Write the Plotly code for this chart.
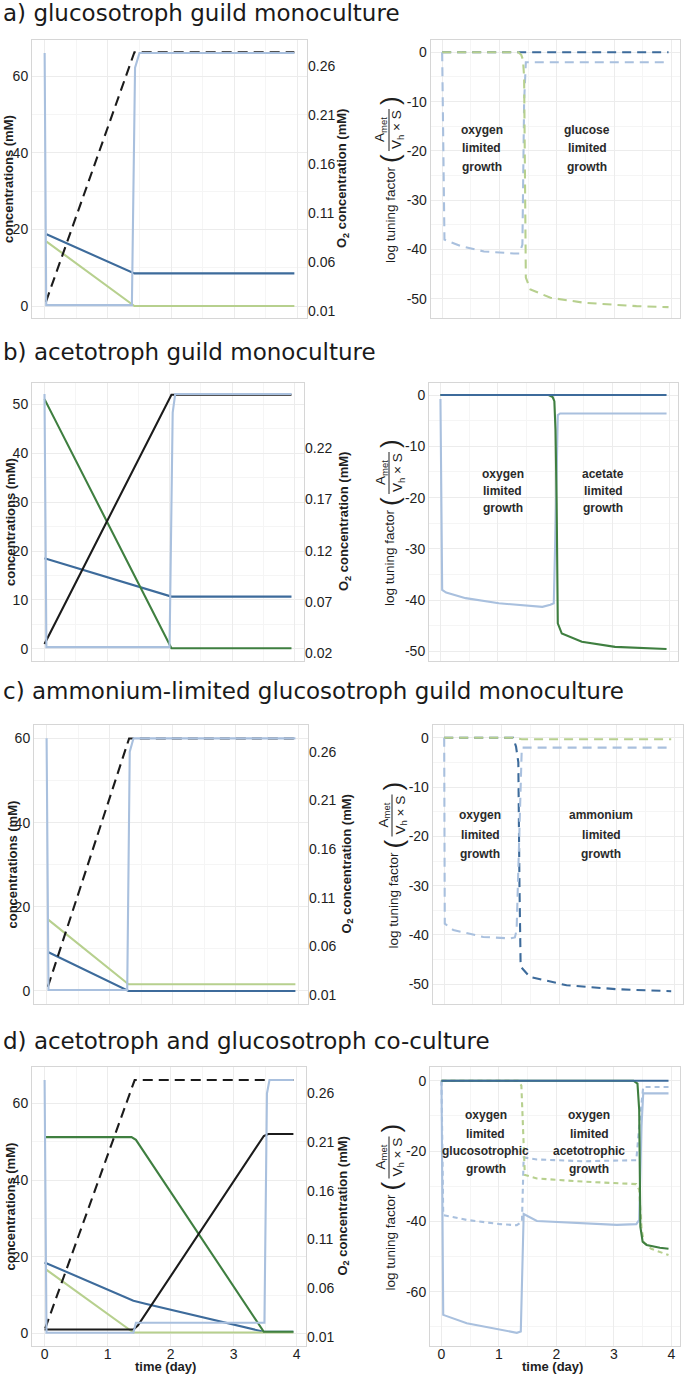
import plotly.graph_objects as go

W, H = 685, 1374

# ---------------- colours ----------------
C_LBLUE = "#a9c0de"
C_BLUE = "#3d6b9b"
C_LGREEN = "#b7d08e"
C_DGREEN = "#3f7f40"
C_BLACK = "#1b1b1b"

# ---------------- panel titles ----------------
panel_titles = ["a) glucosotroph guild monoculture",
                "b) acetotroph guild monoculture",
                "c) ammonium-limited glucosotroph guild monoculture",
                "d) acetotroph and glucosotroph co-culture"]

# ---------------- tick labels ----------------
a_conc_ticks = [0, 20, 40, 60]
b_conc_ticks = [0, 10, 20, 30, 40, 50]
c_conc_ticks = [0, 20, 40, 60]
d_conc_ticks = [0, 20, 40, 60]
a_o2_ticks = [0.01, 0.06, 0.11, 0.16, 0.21, 0.26]
b_o2_ticks = [0.02, 0.07, 0.12, 0.17, 0.22]
c_o2_ticks = [0.01, 0.06, 0.11, 0.16, 0.21, 0.26]
d_o2_ticks = [0.01, 0.06, 0.11, 0.16, 0.21, 0.26]
a_log_ticks = [0, -10, -20, -30, -40, -50]
b_log_ticks = [0, -10, -20, -30, -40, -50]
c_log_ticks = [0, -10, -20, -30, -40, -50]
d_log_ticks = [0, -20, -40, -60]
time_ticks = [0, 1, 2, 3, 4]

# ================= DATA =================
# ---- a) left: concentrations (mM) ----
a_t_blue = [0.03, 1.42, 3.95]
a_blue = [18.7, 8.5, 8.5]
a_t_lgreen = [0.03, 1.42, 3.95]
a_lgreen = [16.8, 0.0, 0.0]
a_t_kdash = [0.02, 1.42, 3.95]
a_kdash = [1.1, 66.2, 66.2]
a_t_o2 = [0.0, 0.025, 1.38, 1.43, 1.5, 3.95]
a_o2 = [0.273, 0.016, 0.016, 0.258, 0.273, 0.273]
# ---- a) right: log tuning factor ----
a_r_t_blue = [0.0, 3.95]
a_r_blue = [0.0, 0.0]
a_r_t_lblue = [0.0, 0.02, 0.04, 0.32, 0.73, 1.25, 1.35, 1.40, 1.43, 1.46, 3.95]
a_r_lblue = [0.0, -20.0, -38.0, -39.3, -40.4, -40.8, -40.8, -39.0, -10.0, -2.0, -2.0]
a_r_t_lgreen = [0.0, 1.33, 1.38, 1.41, 1.43, 1.46, 1.54, 1.89, 2.47, 3.39, 3.95]
a_r_lgreen = [0.0, 0.0, -0.5, -1.5, -5.0, -45.7, -48.1, -49.8, -50.8, -51.5, -51.7]

# ---- b) left ----
b_t_blue = [0.0, 2.03, 3.95]
b_blue = [18.5, 10.66, 10.66]
b_t_dgreen = [0.0, 2.03, 3.95]
b_dgreen = [51.1, 0.1, 0.1]
b_t_black = [0.0, 2.03, 3.95]
b_black = [0.96, 52.0, 52.0]
b_t_o2 = [0.0, 0.03, 2.0, 2.05, 2.09, 3.95]
b_o2 = [0.273, 0.026, 0.026, 0.255, 0.273, 0.273]
# ---- b) right ----
b_r_t_blue = [0.0, 3.95]
b_r_blue = [0.0, 0.0]
b_r_t_lblue = [0.0, 0.03, 0.1, 0.44, 1.02, 1.43, 1.78, 1.92, 1.98, 2.02, 2.05, 2.09, 3.95]
b_r_lblue = [-0.8, -38.0, -38.5, -39.6, -40.6, -41.0, -41.3, -40.9, -40.6, -21.0, -3.9, -3.6, -3.6]
b_r_t_dgreen = [0.0, 1.89, 1.96, 1.99, 2.01, 2.03, 2.05, 2.12, 2.47, 3.05, 3.95]
b_r_dgreen = [0.0, 0.0, -0.4, -1.2, -6.8, -21.0, -44.5, -46.5, -48.1, -49.1, -49.5]

# ---- c) left ----
c_t_blue = [0.03, 1.30, 3.95]
c_blue = [9.2, 0.0, 0.0]
c_t_lgreen = [0.03, 1.30, 3.95]
c_lgreen = [16.9, 1.6, 1.6]
c_t_kdash = [0.02, 1.31, 3.95]
c_kdash = [1.0, 60.0, 60.0]
c_t_o2 = [0.0, 0.03, 1.28, 1.32, 1.38, 3.95]
c_o2 = [0.2738, 0.0151, 0.0151, 0.26, 0.2738, 0.2738]
# ---- c) right ----
c_r_t_blue = [0.0, 1.2, 1.25, 1.29, 1.31, 1.33, 1.49, 2.13, 3.0, 3.95]
c_r_blue = [0.0, 0.0, -1.8, -5.0, -30.0, -46.4, -48.5, -50.2, -51.0, -51.4]
c_r_t_lblue = [0.0, 0.01, 0.16, 0.68, 1.14, 1.23, 1.26, 1.30, 1.35, 3.95]
c_r_lblue = [0.0, -37.7, -39.0, -40.4, -40.7, -40.5, -39.0, -20.0, -2.0, -2.0]
c_r_t_lgreen = [0.0, 1.2, 1.35, 3.95]
c_r_lgreen = [0.0, 0.0, -0.3, -0.3]

# ---- d) left ----
d_t_blue = [0.0, 1.41, 1.6, 3.48, 3.95]
d_blue = [18.5, 8.5, 7.7, 0.4, 0.4]
d_t_lgreen = [0.02, 1.41, 3.95]
d_lgreen = [16.7, 0.2, 0.2]
d_t_dgreen = [0.0, 1.38, 1.45, 3.48, 3.95]
d_dgreen = [51.2, 51.2, 50.5, 0.4, 0.4]
d_t_black = [0.0, 1.41, 1.48, 3.48, 3.55, 3.95]
d_black = [1.0, 1.0, 2.0, 51.5, 52.0, 52.0]
d_t_kdash = [0.01, 1.43, 3.95]
d_kdash = [1.3, 66.1, 66.1]
d_t_o2 = [0.0, 0.03, 1.41, 1.45, 3.49, 3.53, 3.57, 3.95]
d_o2 = [0.2738, 0.0141, 0.0141, 0.0244, 0.0244, 0.26, 0.2738, 0.2738]
# ---- d) right ----
d_r_t_blue = [0.0, 3.95]
d_r_blue = [0.0, 0.0]
d_r_t_dgreen = [0.0, 3.34, 3.41, 3.44, 3.46, 3.50, 3.57, 3.80, 3.95]
d_r_dgreen = [0.0, 0.0, -0.8, -8.3, -41.5, -45.8, -46.7, -47.5, -47.8]
d_r_t_lblue = [0.0, 0.03, 0.44, 1.02, 1.31, 1.38, 1.41, 1.43, 1.66, 2.47, 3.05, 3.39, 3.44, 3.48, 3.51, 3.95]
d_r_lblue = [0.0, -66.6, -69.0, -70.7, -71.7, -71.3, -55.0, -37.9, -39.9, -40.6, -41.0, -40.8, -39.6, -13.0, -3.6, -3.6]
d_r_t_lblue_dash = [0.0, 0.02, 0.03, 0.44, 1.02, 1.31, 1.40, 1.43, 1.66, 2.47, 3.39, 3.44, 3.51, 3.95]
d_r_lblue_dash = [0.0, -20.0, -38.2, -39.6, -40.8, -41.1, -40.1, -21.8, -22.4, -22.9, -22.6, -13.0, -1.8, -1.8]
d_r_t_lgreen_dash = [0.0, 1.33, 1.39, 1.42, 1.45, 1.66, 2.47, 3.39, 3.44, 3.48, 3.52, 3.65, 3.95]
d_r_lgreen_dash = [0.0, 0.0, -1.4, -15.0, -26.8, -27.8, -28.7, -29.4, -31.0, -42.0, -46.0, -47.8, -49.6]

# ---- region labels ----
a_labels = [["oxygen", "limited", "growth"], ["glucose", "limited", "growth"]]
b_labels = [["oxygen", "limited", "growth"], ["acetate", "limited", "growth"]]
c_labels = [["oxygen", "limited", "growth"], ["ammonium", "limited", "growth"]]
d_labels = [["oxygen", "limited", "glucosotrophic", "growth"],
            ["oxygen", "limited", "acetotrophic", "growth"]]

# ================= GEOMETRY (pixels) =================
GEOM = [
    dict(title_y=13, L=(32, 307), R=(430.7, 680), Y=(40, 318),
         lr=(-3.13, 69.4), o2r=(0.00286, 0.2862), rr=(-53.9, 2.5),
         ytitle_x=9, o2title_x=343, rtitle_x=390,
         lab_x=(481.7, 587.3), lab_y=[130, 148.5, 167]),
    dict(title_y=352, L=(32, 304), R=(429, 678), Y=(383, 661),
         lr=(-2.52, 54.4), o2r=(0.01245, 0.2838), rr=(-51.85, 2.34),
         ytitle_x=10, o2title_x=344, rtitle_x=390,
         lab_x=(502.7, 603.3), lab_y=[474, 491, 508]),
    dict(title_y=691, L=(34, 308), R=(432.7, 682.7), Y=(725, 1004),
         lr=(-3.09, 63.2), o2r=(0.00075, 0.2875), rr=(-54.0, 2.58),
         ytitle_x=12, o2title_x=347, rtitle_x=393,
         lab_x=(480, 601), lab_y=[815, 835, 854]),
    dict(title_y=1041, L=(32, 306), R=(430, 680), Y=(1067, 1346),
         lr=(-3.31, 69.5), o2r=(0.00044, 0.2872), rr=(-75.45, 3.9),
         ytitle_x=10, o2title_x=343, rtitle_x=390,
         lab_x=(485.9, 589), lab_y=[1115.3, 1133.8, 1151.3, 1169]),
]
XR = [-0.2, 4.15]

def px(x):
    return x / W

def py(y):
    return 1 - y / H

fig = go.Figure()

def line(t, v, xa, ya, color, dash=None, width=2.1):
    fig.add_trace(go.Scatter(x=t, y=v, xaxis=xa, yaxis=ya, mode="lines",
                             line=dict(color=color, width=width, dash=dash),
                             hoverinfo="skip", showlegend=False))

DASH = "10px,6px"
DASH_R = "9px,6px"

# ---- panel a ----
line(a_t_blue, a_blue, "x", "y", C_BLUE)
line(a_t_lgreen, a_lgreen, "x", "y", C_LGREEN)
line(a_t_kdash, a_kdash, "x", "y", C_BLACK, DASH)
line(a_t_o2, a_o2, "x", "y2", C_LBLUE)
line(a_r_t_blue, a_r_blue, "x2", "y3", C_BLUE, DASH_R)
line(a_r_t_lblue, a_r_lblue, "x2", "y3", C_LBLUE, DASH_R)
line(a_r_t_lgreen, a_r_lgreen, "x2", "y3", C_LGREEN, DASH_R)
# ---- panel b ----
line(b_t_blue, b_blue, "x3", "y4", C_BLUE)
line(b_t_dgreen, b_dgreen, "x3", "y4", C_DGREEN)
line(b_t_black, b_black, "x3", "y4", C_BLACK)
line(b_t_o2, b_o2, "x3", "y5", C_LBLUE)
line(b_r_t_lblue, b_r_lblue, "x4", "y6", C_LBLUE)
line(b_r_t_dgreen, b_r_dgreen, "x4", "y6", C_DGREEN)
line(b_r_t_blue, b_r_blue, "x4", "y6", C_BLUE)
# ---- panel c ----
line(c_t_blue, c_blue, "x5", "y7", C_BLUE)
line(c_t_lgreen, c_lgreen, "x5", "y7", C_LGREEN)
line(c_t_kdash, c_kdash, "x5", "y7", C_BLACK, DASH)
line(c_t_o2, c_o2, "x5", "y8", C_LBLUE)
line(c_r_t_blue, c_r_blue, "x6", "y9", C_BLUE, DASH_R)
line(c_r_t_lblue, c_r_lblue, "x6", "y9", C_LBLUE, DASH_R)
line(c_r_t_lgreen, c_r_lgreen, "x6", "y9", C_LGREEN, DASH_R)
# ---- panel d ----
line(d_t_blue, d_blue, "x7", "y10", C_BLUE)
line(d_t_lgreen, d_lgreen, "x7", "y10", C_LGREEN)
line(d_t_dgreen, d_dgreen, "x7", "y10", C_DGREEN)
line(d_t_kdash, d_kdash, "x7", "y10", C_BLACK, DASH)
line(d_t_black, d_black, "x7", "y10", C_BLACK)
line(d_t_o2, d_o2, "x7", "y11", C_LBLUE)
line(d_r_t_lblue_dash, d_r_lblue_dash, "x8", "y12", C_LBLUE, "5px,4px")
line(d_r_t_lblue, d_r_lblue, "x8", "y12", C_LBLUE)
line(d_r_t_lgreen_dash, d_r_lgreen_dash, "x8", "y12", C_LGREEN, "5px,4px")
line(d_r_t_dgreen, d_r_dgreen, "x8", "y12", C_DGREEN)
line(d_r_t_blue, d_r_blue, "x8", "y12", C_BLUE)

# ================= AXES =================
TICKFONT = dict(family="Liberation Sans, Arial, sans-serif", size=14, color="#1e1e1e")
FRAME = "#d6d6d6"
GRID = "#ececec"
MINOR = "#f5f5f5"

conc_ticks = [a_conc_ticks, b_conc_ticks, c_conc_ticks, d_conc_ticks]
o2_ticks = [a_o2_ticks, b_o2_ticks, c_o2_ticks, d_o2_ticks]
log_ticks = [a_log_ticks, b_log_ticks, c_log_ticks, d_log_ticks]
labels = [a_labels, b_labels, c_labels, d_labels]

layout = dict(width=W, height=H, margin=dict(l=0, r=0, t=0, b=0, autoexpand=False),
              paper_bgcolor="white", plot_bgcolor="white", showlegend=False)
annotations = []
shapes = []

def base_axis():
    return dict(showline=True, linecolor=FRAME, linewidth=1, mirror=True,
                showgrid=True, gridcolor=GRID, gridwidth=1, zeroline=False,
                ticks="", tickfont=TICKFONT, fixedrange=True, automargin=False)

def ann(text, x, y, size, angle=0, family="Liberation Sans, Arial, sans-serif",
        color="#1e1e1e", xanchor="center"):
    annotations.append(dict(text=text, x=px(x), y=py(y), xref="paper", yref="paper",
                            showarrow=False, textangle=angle, xanchor=xanchor,
                            yanchor="middle",
                            font=dict(family=family, size=size, color=color)))

for p, g in enumerate(GEOM):
    xl, xr = 2 * p + 1, 2 * p + 2
    yl, yo, yr = 3 * p + 1, 3 * p + 2, 3 * p + 3
    ydom = [py(g["Y"][1]), py(g["Y"][0])]
    last = (p == 3)

    for xi, key in ((xl, "L"), (xr, "R")):
        xa = base_axis()
        xa.update(domain=[px(g[key][0]), px(g[key][1])], range=XR,
                  anchor=f"y{yl if key == 'L' else yr}",
                  tickmode="array", tickvals=time_ticks, showticklabels=last,
                  minor=dict(tickmode="linear", tick0=0, dtick=0.5, showgrid=True,
                             gridcolor=MINOR))
        if last:
            xa["ticklabelstandoff"] = -5
        layout["xaxis" if xi == 1 else f"xaxis{xi}"] = xa

    ct = conc_ticks[p]
    ya = base_axis()
    ya.update(domain=ydom, range=list(g["lr"]), anchor=f"x{xl}",
              tickmode="array", tickvals=ct, ticktext=[str(v) for v in ct],
              minor=dict(tickmode="linear", tick0=0, dtick=(ct[1] - ct[0]) / 2,
                         showgrid=True, gridcolor=MINOR))
    layout["yaxis" if yl == 1 else f"yaxis{yl}"] = ya

    ot = o2_ticks[p]
    layout[f"yaxis{yo}"] = dict(overlaying=f"y{yl}", side="right", anchor=f"x{xl}",
                                range=list(g["o2r"]), tickmode="array", tickvals=ot,
                                ticktext=[f"{v:.2f}" for v in ot], showgrid=False,
                                showline=False, zeroline=False, ticks="",
                                tickfont=TICKFONT, fixedrange=True, automargin=False)

    lt = log_ticks[p]
    yb = base_axis()
    yb.update(domain=ydom, range=list(g["rr"]), anchor=f"x{xr}",
              tickmode="array", tickvals=lt, ticktext=[str(v) for v in lt],
              minor=dict(tickmode="linear", tick0=0, dtick=abs(lt[1] - lt[0]) / 2,
                         showgrid=True, gridcolor=MINOR))
    layout[f"yaxis{yr}"] = yb

    # panel header
    ann(panel_titles[p], 1, g["title_y"], 23, family="DejaVu Sans, sans-serif",
        color="#1a1a1a", xanchor="left")

    cy = (g["Y"][0] + g["Y"][1]) / 2
    # left axis titles
    ann("<b>concentrations (mM)</b>", g["ytitle_x"], cy, 13, angle=-90)
    ann("<b>O<sub>2</sub> concentration (mM)</b>", g["o2title_x"], cy, 13, angle=-90)
    # right axis title with fraction
    rx = g["rtitle_x"]
    ann("log tuning factor", rx, cy + 36, 13.5, angle=-90)
    ann("(", rx, cy - 20, 26, angle=-90)
    ann(")", rx, cy - 78, 26, angle=-90)
    ann("A<sub>met</sub>", rx - 9, cy - 49, 13.5, angle=-90)
    ann("V<sub>h</sub> × S", rx + 8, cy - 49, 13.5, angle=-90)
    shapes.append(dict(type="line", xref="paper", yref="paper",
                       x0=px(rx - 1), x1=px(rx - 1), y0=py(cy - 70), y1=py(cy - 28),
                       line=dict(color="#1e1e1e", width=1)))

    # region labels
    for k in range(2):
        for txt, yy in zip(labels[p][k], g["lab_y"]):
            ann(f"<b>{txt}</b>", g["lab_x"][k], yy, 12, color="#2a2a2a")

# x axis titles (bottom row)
ann("<b>time (day)</b>", 165.5, 1366, 13)
ann("<b>time (day)</b>", 552, 1366, 13)

layout["annotations"] = annotations
layout["shapes"] = shapes
fig.update_layout(**layout)
fig.write_html("out.html", config={"displayModeBar": False},
               post_script="document.body.style.margin='0';document.body.style.overflow='hidden';")
